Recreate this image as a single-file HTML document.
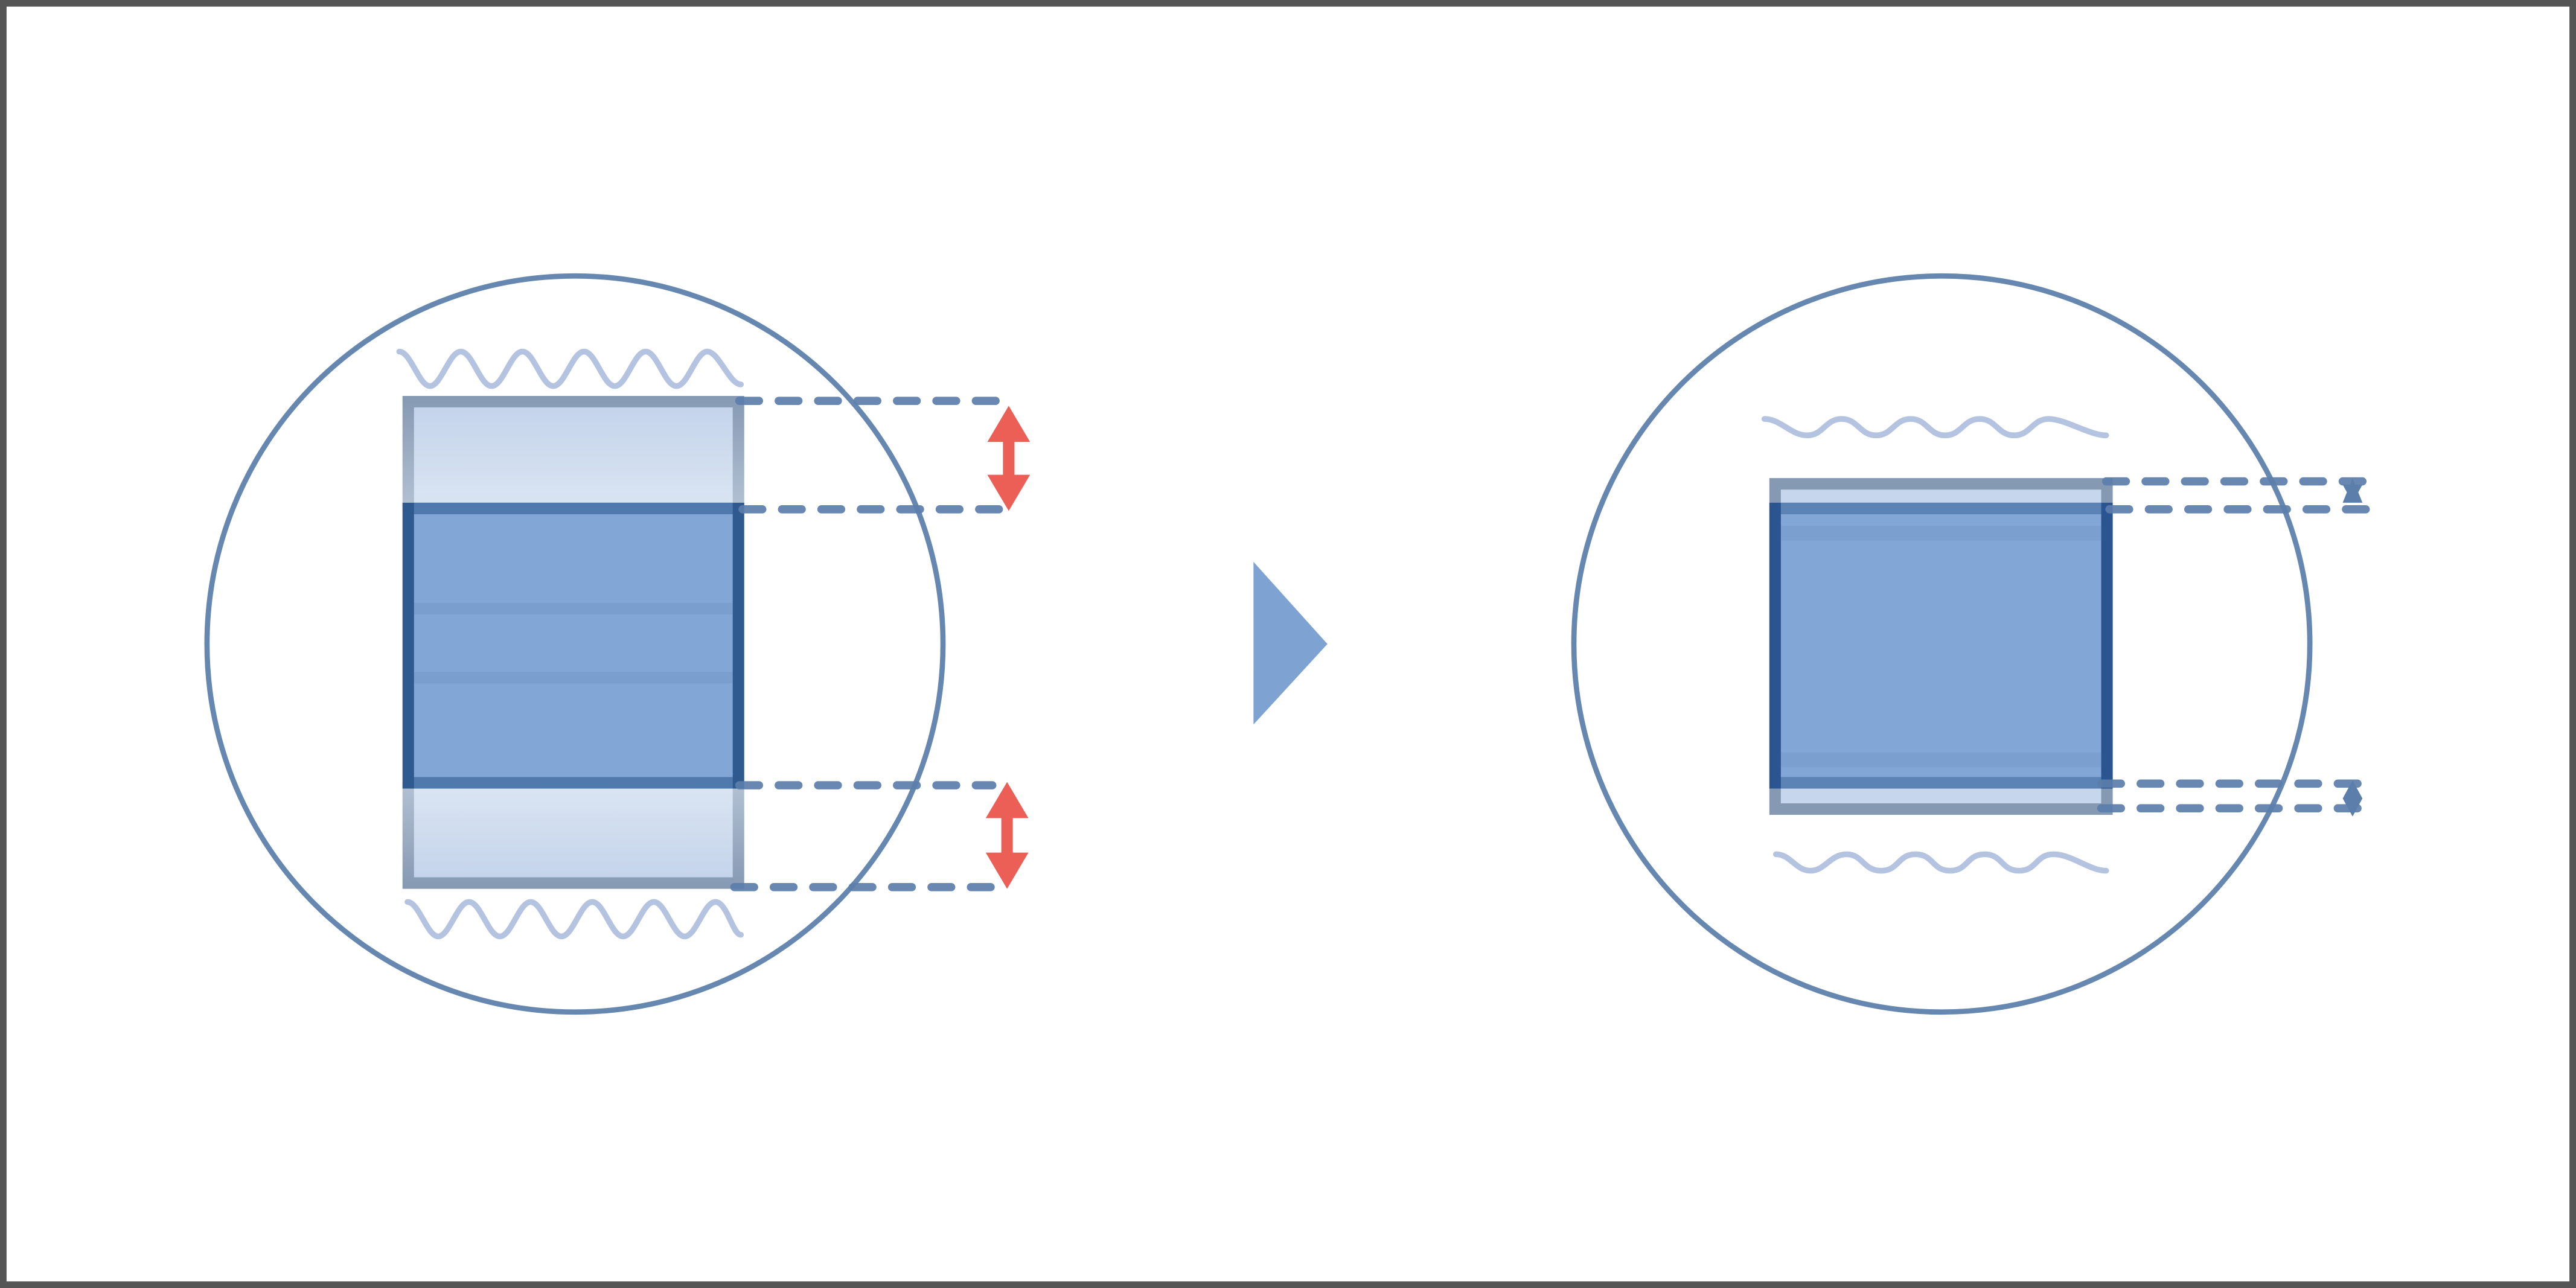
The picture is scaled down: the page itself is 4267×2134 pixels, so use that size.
<!DOCTYPE html>
<html><head><meta charset="utf-8"><style>html,body{margin:0;padding:0;background:#fff}svg{display:block}</style></head>
<body>
<svg width="4267" height="2134" viewBox="0 0 1568 784" preserveAspectRatio="none" xmlns="http://www.w3.org/2000/svg">
<defs>
<linearGradient id="gTop" x1="0" y1="0" x2="0" y2="1"><stop offset="0" stop-color="#c3d3ea"/><stop offset="1" stop-color="#dbe5f3"/></linearGradient>
<linearGradient id="gBot" x1="0" y1="0" x2="0" y2="1"><stop offset="0" stop-color="#dbe5f3"/><stop offset="1" stop-color="#c3d3ea"/></linearGradient>
<linearGradient id="gEdgeL" x1="0" y1="0" x2="0" y2="1"><stop offset="0" stop-color="#8599b3"/><stop offset="1" stop-color="#b3c1d3"/></linearGradient>
<linearGradient id="gEdgeLb" x1="0" y1="0" x2="0" y2="1"><stop offset="0" stop-color="#b3c1d3"/><stop offset="1" stop-color="#8599b3"/></linearGradient>
</defs>
<rect x="2" y="2" width="1564" height="780" fill="#fff" stroke="#555" stroke-width="4"/>

<!-- LEFT -->
<circle cx="350" cy="392" r="224" fill="none" stroke="#6688b0" stroke-width="3.2"/>
<path d="M243,214 C250,214 255,235 261.75,235 S273.5,214 280.5,214 S292.25,235 299.25,235 S311,214 318,214 S329.75,235 336.75,235 S348.5,214 355.5,214 S367.25,235 374.25,235 S386,214 393,214 S404.75,235 411.75,235 S423.5,214 430.5,214 S444,234 451,234" fill="none" stroke="#b3c3e0" stroke-width="3.5" stroke-linecap="round"/>
<path d="M248,549 C255,549 260,570 266.75,570 S278.5,549 285.5,549 S297.25,570 304.25,570 S316,549 323,549 S334.75,570 341.75,570 S353.5,549 360.5,549 S372.25,570 379.25,570 S391,549 398,549 S409.75,570 416.75,570 S428.5,549 435.5,549 S446,569 451,569" fill="none" stroke="#b3c3e0" stroke-width="3.5" stroke-linecap="round"/>
<rect x="248.5" y="244.5" width="201" height="66" fill="url(#gTop)"/>
<rect x="248.5" y="477" width="201" height="60.5" fill="url(#gBot)"/>
<path d="M245,241 H453 V310 H446 V248 H252 V310 H245 Z" fill="url(#gEdgeL)"/>
<path d="M245,541 H453 V476 H446 V534 H252 V476 H245 Z" fill="url(#gEdgeLb)"/>
<rect x="248.5" y="309.5" width="201" height="167" fill="#82a6d5"/>
<rect x="252" y="367" width="194" height="7" fill="#7a9fcf"/>
<rect x="252" y="409" width="194" height="7" fill="#7a9fcf"/>
<rect x="248.5" y="309.5" width="201" height="167" fill="none" stroke="#2f5a90" stroke-width="7"/>
<rect x="252" y="306" width="194" height="7" fill="#5079ad"/>
<rect x="252" y="473" width="194" height="7" fill="#5079ad"/>
<g stroke="#5b7eab" stroke-opacity="0.92" stroke-width="5" stroke-linecap="round" stroke-dasharray="12 12" fill="none">
<line x1="450" y1="244" x2="608" y2="244"/>
<line x1="452" y1="310" x2="608" y2="310"/>
<line x1="450" y1="478" x2="604" y2="478"/>
<line x1="447" y1="540" x2="604" y2="540"/>
</g>
<g fill="#ec5f57">
<path d="M614,247 L627,269 L617.5,269 L617.5,289 L627,289 L614,311 L601,289 L610.5,289 L610.5,269 L601,269 Z"/>
<path d="M613,476 L626,498 L616.5,498 L616.5,519 L626,519 L613,541 L600,519 L609.5,519 L609.5,498 L600,498 Z"/>
</g>

<polygon points="763,342 808,392 763,441" fill="#7ea3d3"/>

<!-- RIGHT -->
<circle cx="1182" cy="392" r="224" fill="none" stroke="#6688b0" stroke-width="3.2"/>
<path d="M1074,255 C1084,255 1090,265 1100,265 S1111,255 1121,255 S1132,265 1142,265 S1153,255 1163,255 S1174,265 1184,265 S1195,255 1205,255 S1216,265 1226,265 S1237,255 1247,255 S1272,265 1282,265" fill="none" stroke="#b3c3e0" stroke-width="3.5" stroke-linecap="round"/>
<path d="M1081,520 C1090,520 1093,530 1102,530 S1114,520 1124,520 S1134,530 1145,530 S1155,520 1166,520 S1176,530 1187,530 S1197,520 1208,520 S1218,530 1229,530 S1239,520 1250,520 S1272,530 1282,530" fill="none" stroke="#b3c3e0" stroke-width="3.5" stroke-linecap="round"/>
<rect x="1080.5" y="294.5" width="202" height="198" fill="#c6d6ec"/>
<rect x="1080.5" y="294.5" width="202" height="198" fill="none" stroke="#8599b3" stroke-width="7"/>
<rect x="1080.5" y="309.5" width="202" height="167" fill="#82a6d5"/>
<rect x="1084" y="320" width="195" height="9" fill="#7ba0d0"/>
<rect x="1084" y="458" width="195" height="9" fill="#7ba0d0"/>
<rect x="1080.5" y="309.5" width="202" height="167" fill="none" stroke="#2a5590" stroke-width="7"/>
<rect x="1084" y="306" width="195" height="7" fill="#5b83b5"/>
<rect x="1084" y="473" width="195" height="7" fill="#5b83b5"/>
<g stroke="#5b7eab" stroke-opacity="0.92" stroke-width="5" stroke-linecap="round" stroke-dasharray="12 12" fill="none">
<line x1="1282" y1="293" x2="1440" y2="293"/>
<line x1="1284" y1="310" x2="1440" y2="310"/>
<line x1="1279" y1="477" x2="1436" y2="477"/>
<line x1="1279" y1="492" x2="1436" y2="492"/>
</g>
<g fill="#5b7eab">
<path d="M1432,291 L1438,306 L1426,306 Z"/>
<path d="M1432,306 L1438,295 L1426,295 Z"/>
<path d="M1432,475 L1438,486 L1432,497 L1426,486 Z"/>
</g>
</svg>
</body></html>
